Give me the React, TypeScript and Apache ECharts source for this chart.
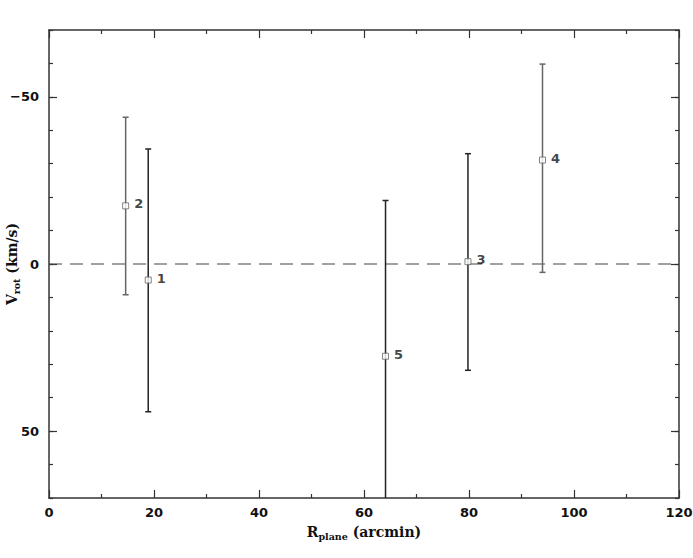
import React, { useEffect, useRef } from "react";
import * as echarts from "echarts";

const pointIds = ["1", "2", "3", "4", "5"];
const rPlane = [18.9, 14.6, 79.8, 94.0, 64.1];
const vRot = [4.8, -17.4, -0.7, -31.1, 27.6];
const vLow = [-34.4, -43.9, -33.0, -59.8, -19.0];
const vHigh = [44.2, 9.2, 31.8, 2.5, 74.2];
const xMajorTicks = [0, 20, 40, 60, 80, 100, 120];
const yMajorTicks = [-50, 0, 50];
const zeroLine = [[0, 0], [120, 0]];

const barColors = ["#222", "#666", "#222", "#666", "#222"];

const sansFont = "DejaVu Sans, Verdana, sans-serif";
const labelFont = { fontFamily: sansFont, fontWeight: "bold" as const, fontSize: 13, color: "#111" };
const nameFont = "DejaVu Serif, serif";

export default function App() {
  const ref = useRef<HTMLDivElement>(null);
  useEffect(() => {
    const chart = echarts.init(ref.current!, null, { renderer: "svg" });
    const lineCol = "#333";
    const baseX = { type: "value", min: 0, max: 120, interval: 20, splitLine: { show: false } };
    const baseY = { type: "value", min: -70, max: 70, interval: 10, inverse: true, splitLine: { show: false } };
    const axLine = { show: true, onZero: false, lineStyle: { color: lineCol, width: 1.5 } };
    const noLine = { show: false, onZero: false };
    const rich = {
      m: { fontFamily: nameFont, fontWeight: "bold", fontSize: 14, color: "#111" },
      s: { fontFamily: nameFont, fontWeight: "bold", fontSize: 9.5, color: "#111", padding: [8, 0, 0, 0] },
    };
    chart.setOption({
      animation: false,
      backgroundColor: "#fff",
      grid: { left: 49, right: 14, top: 30, bottom: 60, containLabel: false, outerBoundsMode: "none" },
      xAxis: [
        {
          ...baseX,
          position: "bottom",
          axisLine: axLine,
          axisTick: { show: true, inside: true, length: 8, lineStyle: { color: lineCol, width: 1.2 } },
          minorTick: { show: true, splitNumber: 2, length: 4, lineStyle: { color: lineCol, width: 1.2 } },
          axisLabel: { ...labelFont, margin: 8, customValues: xMajorTicks },
          name: "{m|R}{s|plane}{m| (arcmin)}",
          nameLocation: "middle",
          nameGap: 25,
          nameMoveOverlap: false,
          nameTextStyle: { rich },
        },
        {
          ...baseX,
          position: "top",
          axisLine: axLine,
          axisTick: { show: true, inside: true, length: 8, lineStyle: { color: lineCol, width: 1.2 } },
          minorTick: { show: true, splitNumber: 2, length: 4, lineStyle: { color: lineCol, width: 1.2 } },
          axisLabel: { show: false },
        },
      ],
      yAxis: [
        {
          ...baseY,
          position: "left",
          axisLine: axLine,
          axisTick: { show: true, inside: true, length: 4, lineStyle: { color: lineCol, width: 1.2 } },
          axisLabel: {
            ...labelFont,
            margin: 10,
            customValues: yMajorTicks,
            formatter: (v: number) => (v < 0 ? "\u2212" + Math.abs(v) : String(v)),
          },
          name: "{m|V}{s|rot}{m| (km/s)}",
          nameLocation: "middle",
          nameRotate: 90,
          nameGap: 28,
          nameMoveOverlap: false,
          nameTextStyle: { rich },
        },
        {
          ...baseY,
          position: "left",
          offset: 0,
          axisLine: noLine,
          axisTick: { show: true, inside: true, length: 8, customValues: yMajorTicks, lineStyle: { color: lineCol, width: 1.2 } },
          axisLabel: { show: false },
        },
        {
          ...baseY,
          position: "right",
          offset: 0,
          axisLine: axLine,
          axisTick: { show: true, inside: true, length: 4, lineStyle: { color: lineCol, width: 1.2 } },
          axisLabel: { show: false },
        },
        {
          ...baseY,
          position: "right",
          offset: 0,
          axisLine: noLine,
          axisTick: { show: true, inside: true, length: 8, customValues: yMajorTicks, lineStyle: { color: lineCol, width: 1.2 } },
          axisLabel: { show: false },
        },
      ],
      series: [
        {
          type: "line",
          data: zeroLine,
          symbol: "none",
          silent: true,
          lineStyle: { color: "#444", width: 1.2, type: [13, 8] },
          z: 1,
        },
        {
          type: "custom",
          clip: true,
          data: rPlane.map((x, i) => [x, vLow[i], vHigh[i], i]),
          encode: { x: 0, y: [1, 2] },
          renderItem: (params: any, api: any) => {
            const x = api.value(0);
            const p1 = api.coord([x, api.value(1)]);
            const p2 = api.coord([x, api.value(2)]);
            const color = barColors[api.value(3)];
            const style = { stroke: color, lineWidth: 1.5 };
            const cap = 3;
            return {
              type: "group",
              children: [
                { type: "line", shape: { x1: p1[0], y1: p1[1], x2: p2[0], y2: p2[1] }, style },
                { type: "line", shape: { x1: p1[0] - cap, y1: p1[1], x2: p1[0] + cap, y2: p1[1] }, style },
                { type: "line", shape: { x1: p2[0] - cap, y1: p2[1], x2: p2[0] + cap, y2: p2[1] }, style },
              ],
            };
          },
          z: 2,
        },
        {
          type: "scatter",
          data: rPlane.map((x, i) => [x, vRot[i], pointIds[i]]),
          symbol: "rect",
          symbolSize: 6,
          itemStyle: { color: "#fff", borderColor: "#666", borderWidth: 1 },
          label: {
            show: true,
            position: "right",
            distance: 5,
            offset: [0, -2],
            formatter: (p: any) => p.value[2],
            fontFamily: sansFont,
            fontWeight: "bold",
            fontSize: 13,
            color: "#111",
          },
          z: 3,
        },
      ],
    });
    return () => chart.dispose();
  }, []);
  return <div ref={ref} style={{ position: "fixed", left: 0, top: 0, width: 693, height: 558 }} />;
}
